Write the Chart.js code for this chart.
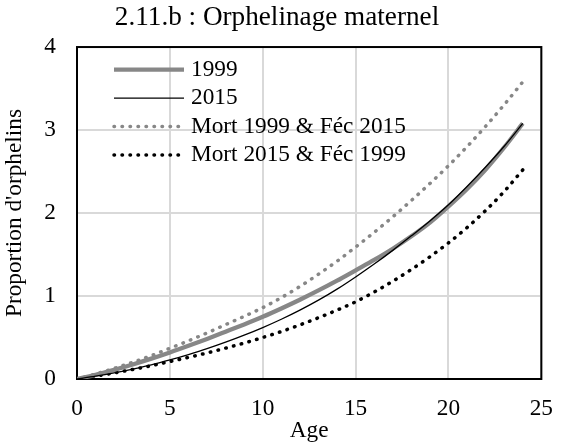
<!DOCTYPE html>
<html>
<head>
<meta charset="utf-8">
<script src="https://cdn.jsdelivr.net/npm/chart.js@4.4.1/dist/chart.umd.min.js"></script>
<style>
  html, body { margin: 0; padding: 0; background: #fff; }
  #wrap { width: 569px; height: 446px; }
</style>
</head>
<body>
<div id="wrap"><canvas id="orphChart" width="569" height="446"></canvas></div>
<script>
// Ages (x) and the four curves
const ages = [0, 1, 2, 3, 4, 5, 6, 7, 8, 9, 10, 11, 12, 13, 14, 15, 16, 17, 18, 19, 20, 21, 22, 23, 24];
const serie1999 = [0.00, 0.05, 0.11, 0.175, 0.245, 0.32, 0.40, 0.483, 0.57, 0.658, 0.75, 0.85, 0.955, 1.067, 1.185, 1.31, 1.435, 1.57, 1.72, 1.885, 2.08, 2.29, 2.525, 2.79, 3.08];
const serie2015 = [0.00, 0.035, 0.075, 0.12, 0.17, 0.23, 0.295, 0.365, 0.443, 0.528, 0.62, 0.72, 0.83, 0.95, 1.083, 1.23, 1.385, 1.55, 1.725, 1.905, 2.10, 2.32, 2.555, 2.805, 3.08];
const mort1999Fec2015 = [0.00, 0.06, 0.128, 0.202, 0.282, 0.37, 0.46, 0.555, 0.655, 0.755, 0.86, 0.98, 1.115, 1.263, 1.42, 1.59, 1.768, 1.954, 2.151, 2.356, 2.57, 2.80, 3.045, 3.305, 3.58];
const mort2015Fec1999 = [0.00, 0.035, 0.073, 0.115, 0.16, 0.21, 0.26, 0.314, 0.372, 0.433, 0.50, 0.572, 0.652, 0.738, 0.83, 0.93, 1.048, 1.178, 1.32, 1.473, 1.64, 1.825, 2.03, 2.26, 2.52];
const seriesLabels = ["1999", "2015", "Mort 1999 & Féc 2015", "Mort 2015 & Féc 1999"];
const xTickValues = [0, 5, 10, 15, 20, 25];
const yTickValues = [0, 1, 2, 3, 4];

const FONT = "'Liberation Serif', 'Times New Roman', serif";
const GREY = "#878787";
Chart.defaults.font.family = FONT;
Chart.defaults.color = "#000";

function points(values) {
    return ages.map((a, i) => ({ x: a, y: values[i] }));
}

// Black frame around the plot area (drawn over the grid)
const framePlugin = {
    id: "frame",
    beforeDatasetsDraw(chart) {
        const { ctx, chartArea: a } = chart;
        ctx.save();
        ctx.strokeStyle = "#000";
        ctx.lineWidth = 2;
        ctx.strokeRect(a.left, a.top, a.right - a.left, a.bottom - a.top);
        ctx.restore();
    }
};

// Legend inside the plot, upper left, using each dataset's own line style
const insideLegend = {
    id: "insideLegend",
    afterDatasetsDraw(chart) {
        const { ctx, chartArea: a } = chart;
        ctx.save();
        chart.data.datasets.forEach((ds, i) => {
            const y = a.top + 22.5 + i * 28.5;
            const x0 = a.left + 37;
            const x1 = a.left + 107;
            ctx.beginPath();
            ctx.strokeStyle = ds.borderColor;
            ctx.lineWidth = ds.borderWidth;
            ctx.lineCap = ds.borderCapStyle || "butt";
            ctx.setLineDash(ds.borderDash || []);
            ctx.moveTo(x0, y);
            ctx.lineTo(x1, y);
            ctx.stroke();
            ctx.setLineDash([]);
            ctx.fillStyle = "#000";
            ctx.font = "23.3px " + FONT;
            ctx.textAlign = "left";
            ctx.textBaseline = "middle";
            ctx.fillText(ds.label, a.left + 114, y);
        });
        ctx.restore();
    }
};

new Chart(document.getElementById("orphChart"), {
    type: "line",
    data: {
        datasets: [
            {
                label: seriesLabels[0],
                data: points(serie1999),
                borderColor: GREY,
                borderWidth: 4.3,
                borderCapStyle: "butt",
                order: 2
            },
            {
                label: seriesLabels[1],
                data: points(serie2015),
                borderColor: "#000",
                borderWidth: 1.3,
                order: 1
            },
            {
                label: seriesLabels[2],
                data: points(mort1999Fec2015),
                borderColor: GREY,
                borderWidth: 3.5,
                borderDash: [0.5, 7.5],
                borderCapStyle: "round",
                order: 3
            },
            {
                label: seriesLabels[3],
                data: points(mort2015Fec1999),
                borderColor: "#000",
                borderWidth: 3.5,
                borderDash: [0.5, 7.5],
                borderCapStyle: "round",
                order: 4
            }
        ]
    },
    options: {
        responsive: false,
        animation: false,
        layout: { padding: { left: 0, right: 15, top: 0, bottom: 0 } },
        elements: {
            point: { radius: 0 },
            line: { cubicInterpolationMode: "monotone", fill: false }
        },
        plugins: {
            legend: { display: false },
            tooltip: { enabled: false },
            title: {
                display: true,
                text: "2.11.b : Orphelinage maternel",
                color: "#000",
                font: { size: 27.2, weight: "normal", family: FONT },
                padding: { top: 1.2, bottom: 13.2 }
            }
        },
        scales: {
            x: {
                type: "linear",
                min: 0,
                max: 25,
                afterBuildTicks: scale => { scale.ticks = xTickValues.map(v => ({ value: v })); },
                afterFit: scale => { scale.height = 67; },
                grid: { color: "#d9d9d9", lineWidth: 2, drawTicks: false },
                border: { display: false },
                ticks: { padding: 16, font: { size: 23.3 }, color: "#000" },
                title: {
                    display: true,
                    text: "Age",
                    color: "#000",
                    font: { size: 23.3 },
                    padding: { top: 0, bottom: 1 }
                }
            },
            y: {
                min: 0,
                max: 4,
                afterBuildTicks: scale => { scale.ticks = yTickValues.map(v => ({ value: v })); },
                afterFit: scale => { scale.width = 77; },
                grid: { color: "#d9d9d9", lineWidth: 2, drawTicks: false },
                border: { display: false },
                ticks: { padding: 21, font: { size: 23.3 }, color: "#000" },
                title: {
                    display: true,
                    text: "Proportion d'orphelins",
                    color: "#000",
                    font: { size: 23.3 },
                    padding: { top: 0.5, bottom: 0 }
                }
            }
        }
    },
    plugins: [framePlugin, insideLegend]
});
</script>
</body>
</html>
